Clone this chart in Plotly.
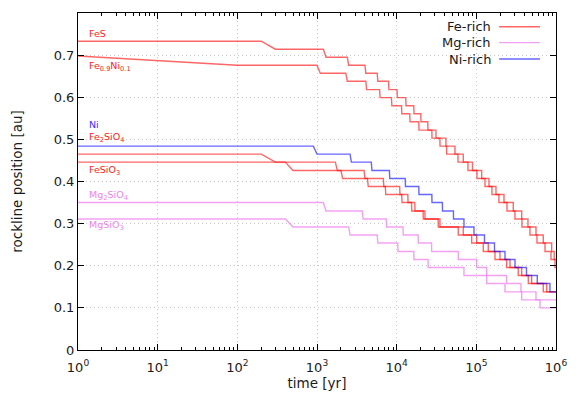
import plotly.graph_objects as go

# ---------------- data ----------------
SNAP_DT = 100.0      # yr between model snapshots
T_START = 1.0
T_END = 1.0e6

fes_r = [0.733, 0.714, 0.695, 0.676, 0.657, 0.638, 0.618, 0.599, 0.580, 0.561,
         0.542, 0.522, 0.503, 0.484, 0.465, 0.446, 0.426, 0.407, 0.388, 0.369,
         0.350, 0.330, 0.311, 0.292, 0.273, 0.254, 0.234, 0.215]
fes_t = [300, 1300, 2500, 4100, 5800, 8000, 1.02e4, 1.31e4, 1.65e4, 2.02e4,
         2.47e4, 3.12e4, 4.16e4, 5.40e4, 6.86e4, 8.95e4, 1.167e5, 1.442e5,
         1.765e5, 2.225e5, 2.91e5, 3.71e5, 4.45e5, 5.61e5, 6.92e5, 8.83e5, 9.5e5]

feni_r = [0.698, 0.676, 0.657, 0.638, 0.618, 0.599, 0.580, 0.561, 0.542, 0.522,
          0.503, 0.484, 0.465, 0.446, 0.426, 0.407, 0.388, 0.369, 0.350, 0.330,
          0.311, 0.292, 0.273, 0.254, 0.234, 0.215, 0.196]
feni_t = [100, 1100, 2400, 4200, 6200, 8700, 1.16e4, 1.47e4, 1.906e4, 2.775e4,
          3.50e4, 4.245e4, 5.888e4, 7.86e4, 1.019e5, 1.285e5, 1.571e5, 1.923e5,
          2.427e5, 3.055e5, 3.74e5, 4.71e5, 5.77e5, 7.28e5, 8.65e5, 9.71e5]

ni_r = [0.484, 0.465, 0.446, 0.426, 0.407, 0.388, 0.369, 0.350, 0.330, 0.311,
        0.292, 0.273, 0.254, 0.234, 0.215, 0.196, 0.177, 0.158, 0.138]
ni_t = [1000, 2700, 4900, 8200, 1.29e4, 1.906e4, 2.775e4, 3.76e4, 5.17e4,
        7.0e4, 9.35e4, 1.266e5, 1.69e5, 2.29e5, 3.06e5, 4.26e5, 5.82e5, 8.4e5]

fe2sio4_r = [0.465, 0.446, 0.426, 0.407, 0.388, 0.369, 0.350, 0.330, 0.311,
             0.292, 0.273, 0.254, 0.234, 0.215, 0.196, 0.177, 0.158, 0.138]
fe2sio4_t = [300, 1800, 4000, 6900, 1.10e4, 1.39e4, 1.70e4, 2.27e4, 3.50e4,
             6.86e4, 1.01e5, 1.413e5, 1.98e5, 2.645e5, 3.71e5, 4.95e5, 7.64e5]

fesio3_r = [0.446, 0.426, 0.407, 0.388, 0.369, 0.350, 0.330, 0.311, 0.292,
            0.273, 0.254, 0.234, 0.215, 0.196, 0.177, 0.158, 0.138]
fesio3_t = [500, 2100, 4400, 7300, 1.167e4, 1.545e4, 2.158e4, 3.33e4, 5.94e4,
            8.75e4, 1.222e5, 1.715e5, 2.40e5, 3.36e5, 4.49e5, 6.92e5]

mg2sio4_r = [0.350, 0.330, 0.311, 0.292, 0.273, 0.254, 0.234, 0.215, 0.196,
             0.177, 0.158, 0.138, 0.119]
mg2sio4_t = [1300, 3800, 7500, 1.21e4, 1.87e4, 2.75e4, 5.94e4, 1.01e5, 1.35e5,
             2.40e5, 3.63e5, 5.61e5]

mgsio3_r = [0.311, 0.292, 0.273, 0.254, 0.234, 0.215, 0.196, 0.177, 0.158,
            0.138, 0.119, 0.100]
mgsio3_t = [500, 2600, 5800, 1.04e4, 1.65e4, 2.49e4, 7.0e4, 1.35e5, 2.29e5,
            3.71e5, 6.3e5]

x_tickvals = [1, 10, 100, 1e3, 1e4, 1e5, 1e6]
x_ticktext = ["10<sup>0</sup>", "10<sup>1</sup>", "10<sup>2</sup>", "10<sup>3</sup>",
              "10<sup>4</sup>", "10<sup>5</sup>", "10<sup>6</sup>"]
x_minor = [m * 10 ** e for e in range(6) for m in range(2, 10)]
y_tickvals = [0, 0.1, 0.2, 0.3, 0.4, 0.5, 0.6, 0.7, 0.8]
y_ticktext = ["0", "0.1", "0.2", "0.3", "0.4", "0.5", "0.6", "0.7", "0.8"]

# ---------------- styles ----------------
RED = "rgba(255,0,0,0.6)"
VIOLET = "rgba(238,130,238,0.75)"
BLUE = "rgba(0,0,255,0.6)"
FONT = "DejaVu Sans"
TXT = "#1a1a1a"
GRID = "#c8c8c8"
GRIDDASH = "1px,3px"


def staircase(levels, times):
    xs = [T_START]
    ys = [levels[0]]
    for prev, lv, t in zip(levels[:-1], levels[1:], times):
        ts = max(t - SNAP_DT, T_START)
        if ts > xs[-1]:
            xs.append(ts)
            ys.append(prev)
        xs.append(t)
        ys.append(lv)
    xs.append(T_END)
    ys.append(levels[-1])
    return xs, ys


series = [
    ("FeS", fes_r, fes_t, RED),
    ("Fe0.9Ni0.1", feni_r, feni_t, RED),
    ("Fe2SiO4", fe2sio4_r, fe2sio4_t, RED),
    ("FeSiO3", fesio3_r, fesio3_t, RED),
    ("Mg2SiO4", mg2sio4_r, mg2sio4_t, VIOLET),
    ("MgSiO3", mgsio3_r, mgsio3_t, VIOLET),
    ("Ni", ni_r, ni_t, BLUE),
]

fig = go.Figure()
for name, r, t, col in series:
    xs, ys = staircase(r, t)
    fig.add_trace(go.Scatter(x=xs, y=ys, mode="lines", name=name,
                             line=dict(color=col, width=1.4),
                             showlegend=False, hoverinfo="skip"))

# curve labels at left
labels = [
    ("FeS", 0.752, "#ff2020"),
    ("Fe<sub>0.9</sub>Ni<sub>0.1</sub>", 0.672, "#ff2020"),
    ("Ni", 0.536, "#3030ff"),
    ("Fe<sub>2</sub>SiO<sub>4</sub>", 0.5045, "#ff2020"),
    ("FeSiO<sub>3</sub>", 0.425, "#ff2020"),
    ("Mg<sub>2</sub>SiO<sub>4</sub>", 0.366, "#ee82ee"),
    ("MgSiO<sub>3</sub>", 0.2965, "#ee82ee"),
]
for txt, yv, col in labels:
    fig.add_annotation(x=0.019, xref="paper", y=yv, yref="y", text=txt,
                       showarrow=False, xanchor="left", yanchor="middle",
                       font=dict(family=FONT, size=9.5, color=col))

# gnuplot-style key (text left, sample line right)
key = [("Fe-rich", 0.9593, RED), ("Mg-rich", 0.912, VIOLET), ("Ni-rich", 0.8635, BLUE)]
for txt, yp, col in key:
    fig.add_annotation(x=0.868, xref="paper", y=yp, yref="paper", text=txt,
                       showarrow=False, xanchor="right", yanchor="middle",
                       font=dict(family=FONT, size=13, color=TXT))
    fig.add_shape(type="line", xref="paper", yref="paper", x0=0.881, x1=0.9665,
                  y0=yp, y1=yp, line=dict(color=col, width=1.4))

fig.update_xaxes(type="log", range=[0, 6], tickvals=x_tickvals, ticktext=x_ticktext,
                 ticks="inside", ticklen=6, tickcolor="black",
                 showline=True, linecolor="black", linewidth=1, mirror="ticks",
                 showgrid=True, gridcolor=GRID, griddash=GRIDDASH, gridwidth=1,
                 minor=dict(tickvals=x_minor, ticks="inside", ticklen=3,
                            tickcolor="black", showgrid=False),
                 zeroline=False, automargin=False, ticklabelstandoff=5,
                 tickfont=dict(family=FONT, size=13, color=TXT),
                 title=dict(text="time [yr]", font=dict(family=FONT, size=13.5, color=TXT),
                            standoff=2))
fig.update_yaxes(range=[0, 0.8], tickvals=y_tickvals, ticktext=y_ticktext,
                 ticks="inside", ticklen=6, tickcolor="black",
                 showline=True, linecolor="black", linewidth=1, mirror="ticks",
                 showgrid=True, gridcolor=GRID, griddash=GRIDDASH, gridwidth=1,
                 zeroline=False, automargin=False,
                 tickfont=dict(family=FONT, size=13, color=TXT),
                 title=dict(text="rockline position [au]",
                            font=dict(family=FONT, size=13.5, color=TXT),
                            standoff=27))

# page body has an 8px default margin, so the figure is sized to the visible area
fig.update_layout(width=570, height=399,
                  margin=dict(l=70, r=22, t=5, b=57),
                  paper_bgcolor="white", plot_bgcolor="white",
                  font=dict(family=FONT))

fig.write_html("out.html")
